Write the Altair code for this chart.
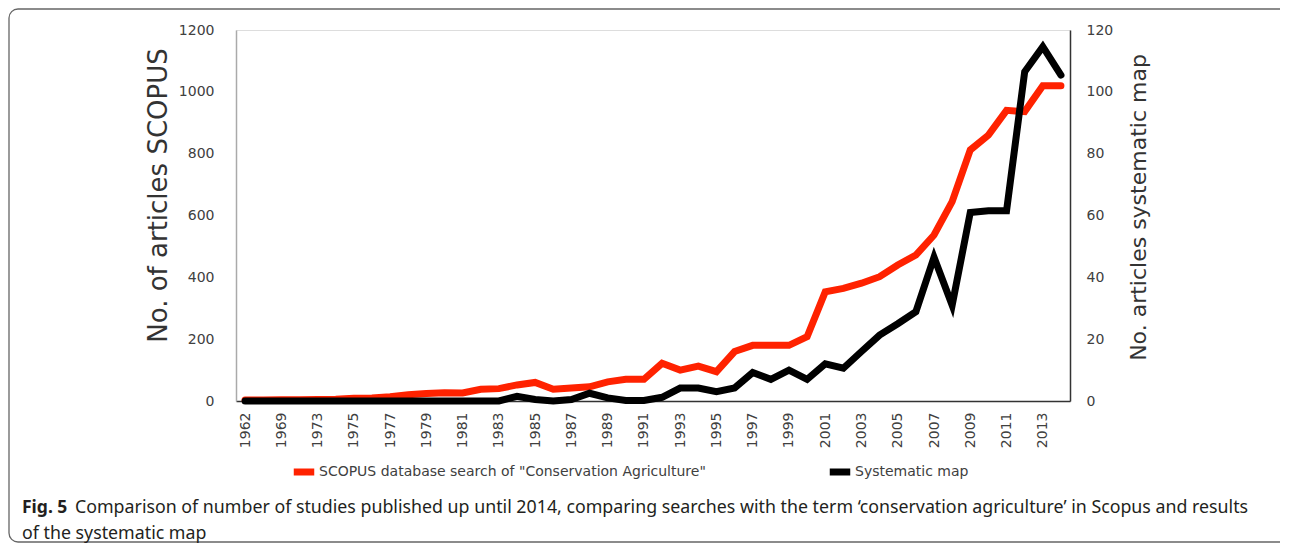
import altair as alt
import pandas as pd

years = ["1962", "1968", "1969", "1971"] + [str(y) for y in range(1973, 2015)]
scopus = [3, 3, 4, 4, 5, 6, 9, 10, 14, 20, 24, 27, 26, 38, 40, 52, 60, 38, 42, 46,
          62, 70, 70, 122, 100, 113, 95, 160, 180, 180, 180, 208, 353, 364, 381, 402,
          440, 472, 537, 645, 812, 860, 940, 936, 1020, 1020]
sysmap = [0, 0, 0, 0, 0, 0, 0, 0, 0, 0, 0, 0, 0, 0, 0, 1.5, 0.5, 0, 0.5, 2.5,
          1, 0.2, 0.2, 1.2, 4.2, 4.2, 3, 4.2, 9.2, 7, 10, 7, 12, 10.6, 16, 21.3,
          25, 28.9, 46.5, 31, 61, 61.5, 61.5, 106.5, 114.6, 105.4]
shown_labels = ["1962", "1969"] + [str(y) for y in range(1973, 2015, 2)]
series_names = ['SCOPUS database search of  "Conservation Agriculture"', "Systematic map"]
series_colors = ["#ff2200", "#000000"]
caption_bold = "Fig. 5"
caption_1 = ("Comparison of number of studies published up until 2014, comparing searches with the term "
             "\u2018conservation agriculture\u2019 in Scopus and results")
caption_2 = "of the systematic map"

df_a = pd.DataFrame({"year": years, "value": scopus, "series": series_names[0]})
df_b = pd.DataFrame({"year": years, "value": sysmap, "series": series_names[1]})
one = pd.DataFrame({"k": [0]})

FONT = "DejaVu Sans"
TXT = "#404040"

xenc = alt.X("year:O", sort=years,
             scale=alt.Scale(type="point", padding=0.5),
             axis=alt.Axis(title=None, values=shown_labels, labelAngle=270, labelAlign="right",
                           labelBaseline="middle", labelPadding=11, ticks=False,
                           labelFont=FONT, labelFontSize=14, labelColor=TXT,
                           domainColor="#333333", domainWidth=1.5, grid=False))
color = alt.Color("series:N", scale=alt.Scale(domain=series_names, range=series_colors),
                  legend=alt.Legend(title=None, orient="none", legendX=54, legendY=428,
                                    direction="horizontal", columns=2, columnPadding=104,
                                    symbolType="stroke", symbolStrokeWidth=7, symbolSize=420,
                                    labelFont=FONT, labelFontSize=14, labelColor=TXT,
                                    labelLimit=600, labelOffset=1))

left = alt.Chart(df_a).mark_line(strokeWidth=7, strokeCap="round").encode(
    x=xenc,
    y=alt.Y("value:Q", scale=alt.Scale(domain=[0, 1200]),
            axis=alt.Axis(title="No. of articles SCOPUS", values=list(range(0, 1201, 200)),
                          format="d", ticks=False, grid=False, labelPadding=22, labelFont=FONT,
                          labelFontSize=14, labelColor=TXT, titleFont=FONT, titleFontSize=26,
                          titleFontWeight="normal", titleColor="#333333",
                          titleAngle=270, titleX=-78, titleY=165, titleAlign="center",
                          titleBaseline="middle",
                          domainColor="#aaaaaa", domainWidth=1.5)),
    color=color,
)

right = alt.Chart(df_b).mark_line(strokeWidth=7, strokeCap="round").encode(
    x=xenc,
    y=alt.Y("value:Q", scale=alt.Scale(domain=[0, 120]),
            axis=alt.Axis(orient="right", title="No. articles systematic map",
                          values=list(range(0, 121, 20)), format="d", ticks=False, grid=False,
                          labelPadding=16, labelFont=FONT, labelFontSize=14, labelColor=TXT,
                          titleFont=FONT, titleFontSize=22, titleFontWeight="normal",
                          titleColor="#333333", titleAngle=270, titleX=68, titleY=177,
                          titleAlign="center", titleBaseline="middle",
                          domainColor="#333333", domainWidth=1.5)),
    color=color,
)

frame = alt.Chart(one).mark_rect(fillOpacity=0, stroke="#666666", strokeWidth=1.3,
                                 cornerRadius=9).encode(
    x=alt.value(-227), x2=alt.value(1070), y=alt.value(-21), y2=alt.value(512))

cap_b = alt.Chart(one).mark_text(text=caption_bold, font="Noto Sans", fontSize=17.5,
                                 fontWeight="bold", align="left", baseline="alphabetic",
                                 color="#231f20").encode(x=alt.value(-214), y=alt.value(483))
cap_1 = alt.Chart(one).mark_text(text=caption_1, font="Noto Sans", fontSize=17.8,
                                 align="left", baseline="alphabetic",
                                 color="#231f20").encode(x=alt.value(-161), y=alt.value(483))
cap_2 = alt.Chart(one).mark_text(text=caption_2, font="Noto Sans", fontSize=17.8,
                                 align="left", baseline="alphabetic",
                                 color="#231f20").encode(x=alt.value(-214), y=alt.value(509))

chart = alt.layer(left, right, frame, cap_b, cap_1, cap_2).resolve_scale(
    y="independent"
).properties(
    width=834, height=371,
    autosize=alt.AutoSizeParams(type="none"),
    padding={"left": 228, "top": 22, "right": 210, "bottom": 143},
).configure_view(stroke=None).configure(background="white")

chart.save("out.html", embed_options={"renderer": "svg", "actions": False})
